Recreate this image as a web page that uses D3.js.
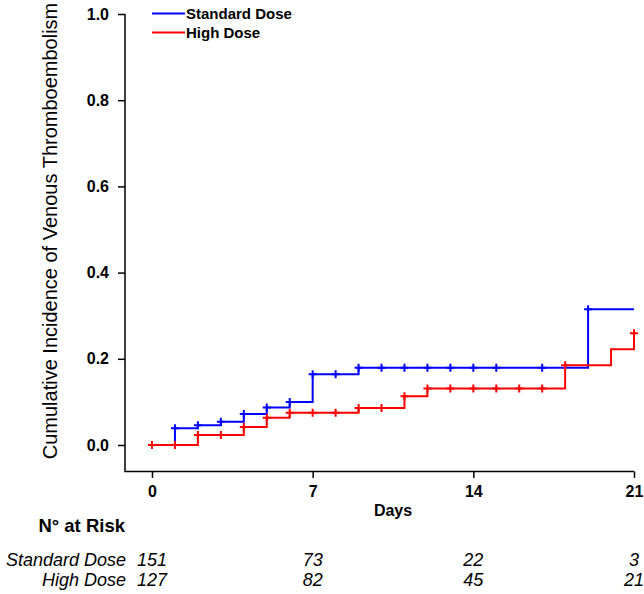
<!DOCTYPE html>
<html>
<head>
<meta charset="utf-8">
<script src="https://cdn.jsdelivr.net/npm/d3@7"></script>
<style>
  html, body { margin: 0; padding: 0; background: #fff; }
  svg { display: block; font-family: "Liberation Sans", Arial, sans-serif; }
</style>
</head>
<body>
<svg id="chart" width="644" height="594"></svg>
<script>
// ---- data ----
const seriesNames = ["Standard Dose", "High Dose"];
const seriesColors = ["#0000ff", "#ff0000"];
// step points (day, cumulative incidence after the step)
const stdDays = [0, 1, 2, 3, 4, 5, 6, 7, 9, 19, 21];
const stdVals = [0, 0.039, 0.046, 0.054, 0.072, 0.087, 0.100, 0.164, 0.179, 0.315, 0.315];
const highDays = [0, 2, 4, 5, 6, 9, 11, 12, 18, 20, 21];
const highVals = [0, 0.023, 0.042, 0.063, 0.075, 0.086, 0.113, 0.131, 0.185, 0.222, 0.259];
// censoring marks (days)
const stdCensor = [1, 2, 3, 4, 5, 6, 7, 8, 9, 10, 11, 12, 13, 14, 15, 17, 19];
const highCensor = [0, 1, 2, 3, 4, 5, 6, 7, 8, 9, 10, 11, 12, 13, 14, 15, 16, 17, 18, 21];
// axes
const xTicks = [0, 7, 14, 21];
const yTicks = [0, 0.2, 0.4, 0.6, 0.8, 1.0];
// number at risk
const riskStd = [151, 73, 22, 3];
const riskHigh = [127, 82, 45, 21];

const xLabel = "Days";
const yLabel = "Cumulative Incidence of Venous Thromboembolism";
const riskTitle = "N\u00B0 at Risk";

// ---- layout ----
const svg = d3.select("#chart");
const x = d3.scaleLinear().domain([0, 21]).range([152, 634]);
const y = d3.scaleLinear().domain([0, 1]).range([445, 14]);
const axisX = 125, axisY = 471.5;

// axis lines
svg.append("path")
  .attr("d", `M${axisX},${y(1)}V${axisY}H${x(21)}`)
  .attr("fill", "none").attr("stroke", "#000").attr("stroke-width", 1.5);

// y axis
const yAxis = d3.axisLeft(y).tickValues(yTicks).tickSize(7).tickSizeOuter(0)
  .tickFormat(d3.format(".1f"));
const gy = svg.append("g").attr("transform", `translate(${axisX},0)`).call(yAxis);
gy.select(".domain").remove();
gy.selectAll(".tick line").attr("stroke-width", 1.5);
gy.selectAll(".tick text").attr("font-size", 16).attr("font-weight", "bold")
  .attr("fill", "#000").attr("font-family", "Liberation Sans, Arial, sans-serif")
  .attr("x", -16);

// x axis
const xAxis = d3.axisBottom(x).tickValues(xTicks).tickSize(6.5).tickSizeOuter(0);
const gx = svg.append("g").attr("transform", `translate(0,${axisY})`).call(xAxis);
gx.select(".domain").remove();
gx.selectAll(".tick line").attr("stroke-width", 1.5);
gx.selectAll(".tick text").attr("font-size", 16).attr("font-weight", "bold")
  .attr("fill", "#000").attr("font-family", "Liberation Sans, Arial, sans-serif")
  .attr("y", 14);

// axis titles
svg.append("text").attr("x", (x(0) + x(21)) / 2).attr("y", 516)
  .attr("text-anchor", "middle").attr("font-size", 16).attr("font-weight", "bold")
  .text(xLabel);
svg.append("text")
  .attr("transform", "translate(57,231) rotate(-90)")
  .attr("text-anchor", "middle").attr("font-size", 20)
  .text(yLabel);

// curves
function stepValue(days, vals, d) {
  let v = vals[0];
  for (let i = 0; i < days.length; i++) if (days[i] <= d) v = vals[i];
  return v;
}
const line = d3.line().x(d => x(d[0])).y(d => y(d[1])).curve(d3.curveStepAfter);
const series = [
  { days: stdDays, vals: stdVals, censor: stdCensor, color: seriesColors[0] },
  { days: highDays, vals: highVals, censor: highCensor, color: seriesColors[1] }
];
series.forEach(s => {
  const pts = s.days.map((d, i) => [d, s.vals[i]]);
  svg.append("path").attr("d", line(pts)).attr("fill", "none")
    .attr("stroke", s.color).attr("stroke-width", 2);
  const arm = 4;
  svg.append("g").selectAll("path").data(s.censor).join("path")
    .attr("d", d => {
      const cx = x(d), cy = y(stepValue(s.days, s.vals, d));
      return `M${cx - arm},${cy}H${cx + arm}M${cx},${cy - arm}V${cy + arm}`;
    })
    .attr("stroke", s.color).attr("stroke-width", 2).attr("fill", "none");
});

// legend
const legend = svg.append("g");
seriesNames.forEach((name, i) => {
  const ly = 13.5 + i * 19;
  legend.append("line").attr("x1", 152).attr("x2", 185).attr("y1", ly).attr("y2", ly)
    .attr("stroke", seriesColors[i]).attr("stroke-width", 2);
  legend.append("text").attr("x", 186).attr("y", ly + 5.5)
    .attr("font-size", 15).attr("font-weight", "bold").text(name);
});

// number at risk table
svg.append("text").attr("x", 125).attr("y", 532).attr("text-anchor", "end")
  .attr("font-size", 18.5).attr("font-weight", "bold").text(riskTitle);
const riskRows = [riskStd, riskHigh];
riskRows.forEach((row, r) => {
  const ry = 566 + r * 20;
  svg.append("text").attr("x", 126).attr("y", ry).attr("text-anchor", "end")
    .attr("font-size", 18).attr("font-style", "italic").text(seriesNames[r]);
  svg.append("g").selectAll("text").data(row).join("text")
    .attr("x", (d, i) => x(xTicks[i])).attr("y", ry)
    .attr("text-anchor", "middle").attr("font-size", 18).attr("font-style", "italic")
    .text(d => d);
});
</script>
</body>
</html>
